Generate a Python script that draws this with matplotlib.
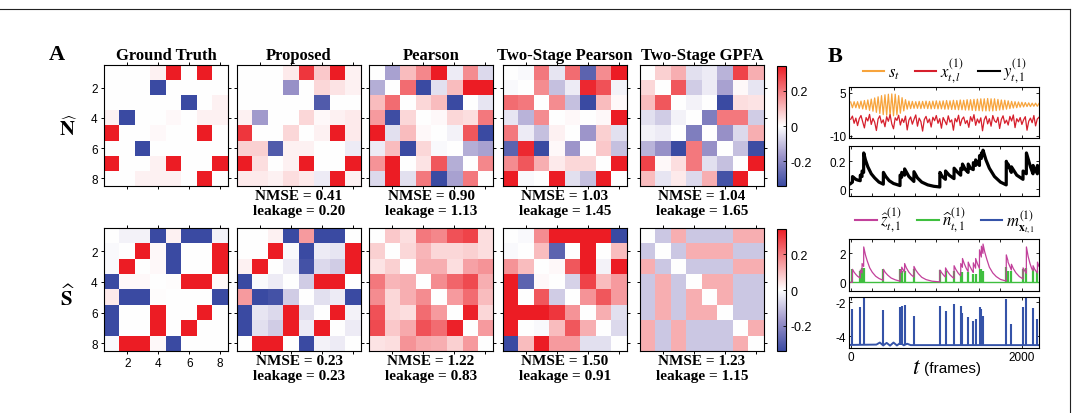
import numpy as np
import matplotlib
matplotlib.use("Agg")
import matplotlib.pyplot as plt
from matplotlib.colors import LinearSegmentedColormap
from matplotlib.lines import Line2D

plt.rcParams["font.family"] = ["Liberation Sans", "DejaVu Sans"]
plt.rcParams["mathtext.fontset"] = "stix"
plt.rcParams["axes.unicode_minus"] = False

# ---------------- panel A data (8x8 matrices) ----------------
methods = ["Ground Truth", "Proposed", "Pearson", "Two-Stage Pearson", "Two-Stage GPFA"]

gt_n = [[0, 0, 0, .02, .4, 0, .4, 0],
        [0, 0, 0, -.4, 0, 0, 0, 0],
        [0, 0, 0, 0, 0, -.4, 0, .02],
        [.02, -.4, 0, 0, .01, 0, .02, .02],
        [.4, 0, 0, .01, 0, 0, .4, 0],
        [0, 0, -.4, 0, 0, 0, 0, 0],
        [.4, 0, 0, .02, .4, 0, 0, .4],
        [0, 0, .02, .02, .02, 0, .4, 0]]
prop_n = [[0, 0, 0, .03, .3, .08, .4, .02],
          [0, 0, 0, -.18, 0, .06, .04, .02],
          [0, 0, 0, 0, 0, -.3, 0, 0],
          [.02, -.16, 0, 0, .06, .01, .02, .03],
          [.3, 0, 0, .06, 0, .02, .4, .03],
          [.07, .07, -.3, .02, .02, 0, 0, -.03],
          [.4, .05, 0, .02, .4, 0, 0, .4],
          [.03, .03, .02, .05, .03, -.03, .4, .02]]
pear_n = [[0, -.15, .1, .18, .4, -.03, .17, -.06],
          [-.13, 0, .22, -.35, -.05, .1, .4, .4],
          [.1, .22, 0, .06, .1, -.35, 0, -.04],
          [.15, -.33, .06, 0, .01, .06, .05, .2],
          [.4, -.05, .1, .01, 0, -.02, .25, -.35],
          [-.03, .1, -.35, .06, -.01, 0, -.13, -.15],
          [.16, .4, 0, .04, .25, -.13, 0, .18],
          [-.06, .4, -.05, .2, -.35, -.15, .2, 0]]
tsp_n = [[0, -.01, .2, -.04, .22, -.28, .17, .35],
         [-.01, 0, .17, -.1, -.03, .32, .26, -.02],
         [.22, .2, 0, .17, -.1, -.35, .1, .01],
         [-.04, -.12, .17, 0, .01, 0, .01, .4],
         [.2, -.03, -.1, .02, 0, -.17, .07, -.05],
         [-.28, .32, -.35, .01, -.17, 0, .08, -.1],
         [.17, .25, .12, .03, .06, .06, 0, .4],
         [.35, -.01, 0, .4, -.05, -.1, .4, 0]]
gpfa_n = [[0, .07, .12, -.05, -.03, -.12, .28, .12],
          [.06, 0, .25, -.08, -.03, -.15, .01, -.04],
          [.1, .25, 0, -.02, 0, -.35, .05, .04],
          [-.05, -.08, -.02, 0, -.22, .2, .2, -.08],
          [-.02, -.03, 0, -.22, 0, -.18, -.06, .12],
          [-.12, -.18, -.35, .2, -.18, 0, -.1, -.33],
          [.28, .01, .05, .2, -.05, -.1, 0, .4],
          [.1, -.04, .03, -.06, .12, -.32, .4, 0]]

gt_s = [[0, -.02, -.02, -.4, .02, -.4, -.4, -.02],
        [-.01, 0, .4, .01, -.4, 0, 0, .4],
        [-.01, .4, 0, .01, -.4, 0, 0, .4],
        [-.4, .01, .01, 0, .005, .4, .4, .01],
        [.03, -.4, -.4, .005, 0, 0, 0, -.4],
        [-.4, 0, 0, .4, 0, 0, .4, 0],
        [-.4, 0, 0, .4, 0, .4, 0, 0],
        [-.01, .4, .4, .01, -.4, 0, 0, 0]]
prop_s = [[0, 0, .02, -.4, .15, -.4, -.4, 0],
          [0, 0, .4, -.01, -.4, -.03, -.04, .4],
          [.02, .4, 0, -.03, -.32, -.06, -.08, .4],
          [-.4, -.01, -.03, 0, -.08, .4, .4, 0],
          [.15, -.4, -.32, -.08, 0, -.05, -.03, -.4],
          [-.4, -.04, -.06, .4, -.05, 0, .4, -.02],
          [-.4, -.05, -.08, .4, -.03, .4, 0, -.03],
          [0, .4, .4, 0, -.4, -.02, -.03, 0]]
pear_s = [[0, .08, .05, .2, .18, .26, .28, .05],
          [.07, 0, .06, .11, .06, .06, .07, .05],
          [.04, .07, 0, .12, .12, .05, .14, .16],
          [.2, .11, .12, 0, .17, .23, .27, .12],
          [.17, .06, .12, .17, 0, .15, .22, .1],
          [.26, .06, .05, .22, .15, 0, .33, .06],
          [.27, .08, .13, .26, .22, .33, 0, .15],
          [.04, .05, .16, .13, .12, .07, .15, 0]]
tsp_s = [[0, -.01, .17, .4, .4, .4, .4, -.4],
         [-.01, 0, .1, -.28, 0, .4, 0, .1],
         [.16, .1, 0, .01, .25, .4, -.02, .4],
         [.4, -.28, .01, 0, -.07, .28, .1, .15],
         [.4, 0, .25, -.08, 0, .16, .25, .15],
         [.4, .4, .4, .3, .16, 0, .12, -.05],
         [.4, 0, -.01, .1, .25, .12, 0, -.06],
         [-.4, .1, .4, .15, .15, -.05, -.05, 0]]
gpfa_s = [[0, -.09, .12, -.09, -.09, -.09, .12, .12],
          [-.09, 0, -.09, .12, .12, .12, -.09, -.09],
          [.12, -.09, 0, -.09, -.09, -.09, .12, .12],
          [-.09, .12, -.09, 0, .12, .12, -.09, -.09],
          [-.09, .12, -.09, .12, 0, .12, -.09, -.09],
          [-.09, .12, -.09, .12, .12, 0, -.09, -.09],
          [.12, -.09, .12, -.09, -.09, -.09, 0, .12],
          [.12, -.09, .12, -.09, -.09, -.09, .12, 0]]

nmse_n = [0.41, 0.90, 1.03, 1.04]
leak_n = [0.20, 1.13, 1.45, 1.65]
nmse_s = [0.23, 1.22, 1.50, 1.23]
leak_s = [0.23, 0.83, 0.91, 1.15]

# ---------------- panel B data ----------------
# s_t and x_t sampled every 20 frames
s_vals = [1.8, -0.2, 1.9, -0.2, 1.9, -0.4, 2.1, -0.6, 2.3, -0.8,
          2.5, -1.1, 2.8, -1.4, 3.2, -1.8, 3.6, -2.2, 4.0, -2.6,
          4.3, -2.8, 4.5, -3.0, 4.6, -3.0, 4.5, -2.7, 4.0, -2.1,
          3.3, -1.3, 2.6, -0.7, 2.1, -0.5, 2.0, -0.4, 1.9, -0.4,
          2.0, -0.5, 2.0, -0.4, 2.1, -0.5, 2.0, -0.6, 2.1, -0.5,
          2.2, -0.6, 2.1, -0.6, 2.2, -0.7, 2.3, -0.7, 2.2, -0.8,
          2.4, -0.8, 2.3, -0.9, 2.5, -0.9, 2.4, -1.0, 2.6, -1.0,
          2.6, -1.1, 2.7, -1.2, 2.8, -1.2, 2.9, -1.3, 2.9, -1.3,
          3.0, -1.3, 2.9, -1.3, 2.9, -1.2, 2.7, -1.0, 2.5, -0.9,
          2.4, -0.7, 2.2, -0.5, 2.0, -0.3, 1.9, -0.2, 1.8, 0.0,
          1.7, 0.1, 1.6, 0.2, 1.5, 0.2, 1.4, 0.3, 1.4, 0.3, 1.3]
x_vals = [-4.2, -3.1, -5.6, -3.8, -6.4, -4.0, -2.9, -5.1, -7.2, -3.6,
          -4.8, -2.5, -6.0, -3.9, -5.2, -8.1, -4.1, -3.0, -5.5, -4.4,
          -6.8, -3.3, -4.9, -2.6, -5.8, -7.5, -3.7, -4.6, -2.8, -6.2,
          -4.0, -5.3, -3.1, -7.9, -4.5, -3.4, -5.9, -4.2, -2.7, -6.6,
          -3.8, -5.0, -8.3, -4.3, -3.2, -5.4, -4.1, -6.9, -3.5, -4.7,
          -2.9, -5.6, -4.0, -7.3, -3.6, -4.8, -6.1, -3.0, -5.2, -4.4,
          -8.0, -3.9, -5.1, -2.8, -6.4, -4.2, -3.4, -5.7, -4.6, -7.0,
          -3.3, -4.9, -2.6, -6.3, -4.1, -5.5, -3.7, -8.2, -4.4, -3.1,
          -5.8, -4.0, -6.6, -2.9, -4.7, -5.3, -3.5, -7.4, -4.3, -3.0,
          -5.6, -4.5, -6.2, -3.2, -4.8, -2.7, -7.1, -4.0, -5.1, -3.6,
          -6.0, -4.4, -3.3, -8.0, -4.9, -3.8, -5.4, -2.9, -6.5, -4.1, -3.5]
t_osc = np.arange(len(s_vals)) * 20

# y_t (black trace): (frame, value)
y_pts = [(0, .04), (20, .05), (21, .09), (40, .08), (60, .07), (80, .065), (111, .06),
         (112, .1), (132, .09), (133, .13), (151, .12), (152, .26), (172, .21), (200, .16),
         (240, .11), (280, .08), (330, .05), (381, .035), (382, .12), (410, .09), (450, .06),
         (500, .04), (576, .025), (577, .1), (595, .085), (596, .12), (629, .1), (630, .145),
         (680, .09), (738, .055), (739, .125), (780, .08), (830, .05), (900, .03), (970, .02),
         (1041, .015), (1042, .12), (1070, .09), (1107, .07), (1108, .13), (1150, .1),
         (1207, .075), (1208, .15), (1250, .12), (1285, .1), (1286, .15), (1305, .14),
         (1306, .18), (1340, .14), (1372, .12), (1373, .18), (1400, .15), (1432, .14),
         (1433, .19), (1459, .17), (1460, .21), (1490, .18), (1504, .17), (1505, .24),
         (1526, .22), (1527, .26), (1545, .24), (1546, .28), (1580, .21), (1620, .15),
         (1680, .09), (1750, .05), (1817, .03), (1818, .2), (1837, .16), (1838, .18),
         (1877, .12), (1878, .16), (1940, .1), (2013, .07), (2014, .13), (2052, .11),
         (2053, .26), (2100, .16), (2130, .11), (2131, .17), (2181, .11), (2182, .17), (2200, .14)]

# inferred events: frame, n-hat height, m peak
ev_t = [20, 112, 133, 152, 382, 577, 596, 630, 739, 1042, 1108, 1208, 1286, 1306,
        1373, 1433, 1460, 1505, 1527, 1546, 1818, 1838, 1878, 2014, 2053, 2131, 2182]
n_h = [0.9, 0.8, 1.0, 1.0, 0.95, 0.9, 0.8, 0.8, 0.9, 0.85, 0.8, 0.8, 0.75, 0.75,
       0.7, 0.6, 0.55, 0.9, 0.9, 0.8, 1.05, 0.8, 0.8, 0.95, 1.0, 0.9, 0.8]
m_peak = [-2.41, -2.27, -4.5, -1.72, -2.47, -2.27, -2.2, -2.18, -2.8, -2.2, -2.55, -2.12,
          -2.2, -2.67, -2.86, -3.1, -3.0, -2.31, -2.41, -2.8, -1.82, -4.5, -3.3, -2.31,
          -1.72, -2.35, -3.0]
m_base = [(0, -4.52), (300, -4.5), (340, -4.38), (380, -4.55), (420, -4.4), (460, -4.56),
          (500, -4.38), (540, -4.55), (580, -4.4), (620, -4.54), (660, -4.45), (700, -4.53),
          (2200, -4.53)]

# z-hat (magenta): (frame, value)
z_pts = [(0, 0), (19, 0), (20, .9), (40, .7), (60, .55), (80, .42), (111, .3), (112, .85),
         (132, .65), (133, 1.3), (151, 1.1), (152, 2.45), (172, 1.9), (192, 1.5), (222, 1.0),
         (252, .7), (292, .42), (332, .26), (381, .14), (382, .9), (402, .7), (432, .5),
         (472, .3), (522, .17), (576, .08), (577, .85), (595, .68), (596, 1.05), (629, .7),
         (630, 1.3), (650, 1.0), (680, .7), (710, .5), (738, .37), (739, 1.1), (760, .85),
         (790, .6), (830, .35), (880, .19), (950, .08), (1041, .03), (1042, .85), (1062, .67),
         (1092, .45), (1107, .37), (1108, 1.0), (1128, .78), (1158, .53), (1188, .36),
         (1207, .28), (1208, 1.15), (1228, .9), (1258, .62), (1285, .45), (1286, 1.3),
         (1305, 1.04), (1306, 1.65), (1326, 1.3), (1350, .97), (1372, .74), (1373, 1.4),
         (1393, 1.1), (1420, .8), (1432, .69), (1433, 1.35), (1459, .98), (1460, 1.65),
         (1480, 1.3), (1504, .96), (1505, 2.25), (1526, 1.75), (1527, 2.5), (1545, 2.0),
         (1546, 2.65), (1566, 2.1), (1590, 1.6), (1620, 1.05), (1660, .65), (1700, .4),
         (1750, .2), (1817, .09), (1818, 1.9), (1837, 1.5), (1838, 1.4), (1877, .85),
         (1878, 1.25), (1900, .95), (1930, .66), (1970, .4), (2013, .24), (2014, 1.0),
         (2052, .62), (2053, 2.45), (2073, 1.8), (2095, 1.3), (2115, .95), (2130, .8),
         (2131, 1.15), (2150, .9), (2181, .65), (2182, 1.4), (2200, 1.1)]

# ---------------- figure ----------------
W, H = 1079, 414
fig = plt.figure(figsize=(W / 100, H / 100), dpi=100)


def box(x0, y0, x1, y1):
    return [x0 / W, 1 - y1 / H, (x1 - x0) / W, (y1 - y0) / H]


cmap = LinearSegmentedColormap.from_list(
    "rb", [(0, "#3a4aa2"), (0.25, "#9d95ca"), (0.5, "#ffffff"),
           (0.75, "#f58e92"), (1, "#ec1c24")])
vlim = 0.34
serif = ["Liberation Serif", "DejaVu Serif"]

rows = [[gt_n, prop_n, pear_n, tsp_n, gpfa_n], [gt_s, prop_s, pear_s, tsp_s, gpfa_s]]
row_y = [(66, 187), (229, 352)]
col_x = [104, 237, 369, 503, 640]
scores = [(nmse_n, leak_n), (nmse_s, leak_s)]

for r, mats in enumerate(rows):
    y0, y1 = row_y[r]
    for c, M in enumerate(mats):
        x0 = col_x[c]
        ax = fig.add_axes(box(x0, y0, x0 + 124, y1))
        im = ax.imshow(np.array(M), cmap=cmap, vmin=-vlim, vmax=vlim,
                       extent=(0.5, 8.5, 8.5, 0.5), aspect="auto", interpolation="nearest")
        ax.set_xticks([2, 4, 6, 8])
        ax.set_yticks([2, 4, 6, 8])
        ax.tick_params(direction="out", length=2.5, width=0.7, top=True, right=True,
                       labelsize=8.5, pad=2)
        if c > 0:
            ax.set_yticklabels([])
        if not (r == 1 and c == 0):
            ax.set_xticklabels([])
        for sp in ax.spines.values():
            sp.set_linewidth(0.8)
        if r == 0:
            fig.text((x0 + 62) / W, 1 - 56 / H, methods[c], ha="center", va="center",
                     family=serif, fontweight="bold", fontsize=12)
        if c > 0:
            nm, lk = scores[r]
            ty = y1 + 10
            fig.text((x0 + 62) / W, 1 - ty / H, f"NMSE = {nm[c - 1]:.2f}", ha="center",
                     va="center", family=serif, fontweight="bold", fontsize=11)
            fig.text((x0 + 62) / W, 1 - (ty + 15) / H, f"leakage = {lk[c - 1]:.2f}",
                     ha="center", va="center", family=serif, fontweight="bold", fontsize=11)
    cax = fig.add_axes(box(777, y0 + 1, 786, y1))
    cb = fig.colorbar(im, cax=cax, ticks=[-0.2, 0, 0.2])
    cb.ax.set_yticklabels(["-0.2", "0", "0.2"])
    cb.ax.tick_params(direction="in", length=2, width=0.6, labelsize=9, pad=3)
    cb.outline.set_linewidth(0.8)

fig.text(68 / W, 1 - 128 / H, r"$\widehat{\mathbf{N}}$", ha="center", va="center", fontsize=15)
fig.text(68 / W, 1 - 297 / H, r"$\widehat{\mathbf{S}}$", ha="center", va="center", fontsize=15)
fig.text(57 / W, 1 - 55 / H, "A", ha="center", va="center", family=serif,
         fontweight="bold", fontsize=16)
fig.text(835 / W, 1 - 57 / H, "B", ha="center", va="center", family=serif,
         fontweight="bold", fontsize=16)

# ---------------- panel B ----------------
c_s, c_x, c_y = "#f7a43c", "#d61f2c", "black"
c_z, c_n, c_m = "#c2419b", "#3fbf3f", "#3553a8"
xlim = (-20, 2200)

ax1 = fig.add_axes(box(849, 88, 1039, 139))
ax1.plot(t_osc, s_vals, color=c_s, lw=0.9)
ax1.plot(t_osc, x_vals, color=c_x, lw=0.9)
ax1.set_ylim(-10.7, 7)
ax1.set_yticks([-10, 5])
ax1.set_xticks([0, 500, 1000, 1500, 2000])

ax2 = fig.add_axes(box(849, 147, 1039, 197))
yt, yv = zip(*y_pts)
ax2.plot(yt, yv, color=c_y, lw=2.3)
ax2.set_ylim(-0.05, 0.31)
ax2.set_yticks([0, 0.2])
ax2.set_yticklabels(["0", "0.2"])

ax3 = fig.add_axes(box(849, 240, 1039, 292))
zt, zv = zip(*z_pts)
ax3.plot([xlim[0], xlim[1]], [0, 0], color=c_n, lw=1.0)
ax3.vlines(ev_t, 0, n_h, color=c_n, lw=1.6)
ax3.plot(zt, zv, color=c_z, lw=0.9)
ax3.set_ylim(-0.6, 3)
ax3.set_yticks([0, 2])

ax4 = fig.add_axes(box(849, 298, 1039, 349))
mt, mv = zip(*m_base)
ax4.plot(mt, mv, color=c_m, lw=1.4)
ax4.vlines(ev_t, -4.5, m_peak, color=c_m, lw=1.5)
ax4.set_ylim(-4.7, -1.7)
ax4.set_yticks([-4, -2])
ax4.set_xticks([0, 2000])

for ax in (ax1, ax2, ax3, ax4):
    ax.set_xlim(*xlim)
    ax.tick_params(direction="in", length=2.5, width=0.6, top=True, right=True,
                   labelsize=8.5, pad=2)
    for sp in ax.spines.values():
        sp.set_linewidth(0.8)
    if ax is not ax4:
        if ax is not ax1:
            ax.set_xticks([0, 250, 500, 750, 1000, 1250, 1500, 1750, 2000])
        ax.set_xticklabels([])

leg1 = [Line2D([], [], color=c_s, lw=1.5), Line2D([], [], color=c_x, lw=1.5),
        Line2D([], [], color=c_y, lw=1.5)]
fig.legend(leg1, [r"$s_t$", r"$x^{(1)}_{t,l}$", r"$y^{(1)}_{t,1}$"], loc="center",
           bbox_to_anchor=(945 / W, 1 - 72 / H), ncol=3, frameon=False, fontsize=12,
           handlelength=1.3, handletextpad=0.2, columnspacing=0.9, borderpad=0)
leg2 = [Line2D([], [], color=c_z, lw=1.5), Line2D([], [], color=c_n, lw=1.5),
        Line2D([], [], color=c_m, lw=1.5)]
fig.legend(leg2, [r"$\widehat{z}^{(1)}_{t,1}$", r"$\widehat{n}^{(1)}_{t,1}$",
                  r"$m^{(1)}_{\mathbf{x}_{t,1}}$"], loc="center",
           bbox_to_anchor=(945 / W, 1 - 222 / H), ncol=3, frameon=False, fontsize=12,
           handlelength=1.3, handletextpad=0.2, columnspacing=0.9, borderpad=0)

fig.text(917 / W, 1 - 368 / H, r"$t$", ha="center", va="center", fontsize=17)
fig.text(924 / W, 1 - 369 / H, "(frames)", ha="left", va="center", fontsize=11)

# outer frame (top and right edge)
fig.add_artist(Line2D([0, 1070 / W], [1 - 10 / H, 1 - 10 / H], color="#222222", lw=0.8))
fig.add_artist(Line2D([1070 / W, 1070 / W], [1 - 10 / H, 0], color="#222222", lw=0.8))

fig.savefig("out.png", dpi=100)
